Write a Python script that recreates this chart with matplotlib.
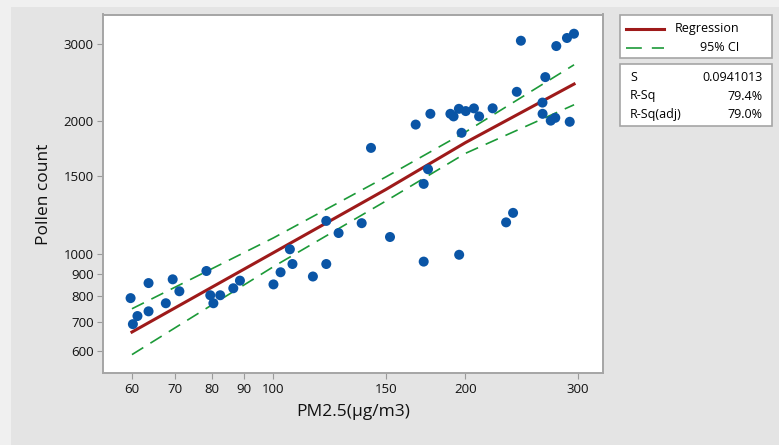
import matplotlib
matplotlib.use("Agg")
import matplotlib.pyplot as plt
from matplotlib.patches import Rectangle
from matplotlib.lines import Line2D
from matplotlib.ticker import FixedLocator, NullLocator

plt.rcParams['font.family'] = ['Open Sans', 'DejaVu Sans']

# scatter data (PM2.5, pollen count)
pm25 = [59.7, 60.2, 61.2, 63.7, 63.7, 67.8, 69.5, 71.2, 78.5, 79.6,
        80.5, 82.5, 86.5, 88.6, 100.0, 102.6, 106.1, 107.1, 115.3, 121.0,
        121.0, 126.5, 137.5, 152.3, 172.0, 195.5, 231.6, 237.5, 142.2, 172.0,
        174.7, 167.1, 176.2, 189.4, 191.6, 195.3, 200.2, 206.2, 210.1, 197.2,
        220.6, 240.7, 244.3, 266.8, 264.1, 264.2, 272.1, 276.6, 291.4, 277.6,
        288.5, 295.9]
pollen = [793, 692, 722, 858, 740, 772, 875, 822, 914, 805,
          772, 805, 835, 869, 852, 908, 1024, 948, 888, 1188,
          948, 1115, 1174, 1092, 960, 995, 1179, 1239, 1741, 1442,
          1557, 1967, 2081, 2081, 2053, 2136, 2111, 2141, 2053, 1884,
          2142, 2335, 3051, 2522, 2207, 2081, 2008, 2038, 1996, 2967,
          3095, 3165]

# fitted line and 95% CI, read at a few x values
fit_x = [60, 100, 150, 200, 296]
fit_y = [664, 1006, 1400, 1790, 2432]
ci_hi = [750, 1087, 1495, 1892, 2690]
ci_lo = [590, 935, 1318, 1692, 2182]

xticks = [60, 70, 80, 90, 100, 150, 200, 300]
yticks = [600, 700, 800, 900, 1000, 1500, 2000, 3000]

W, H = 779, 445
fig = plt.figure(figsize=(W / 100, H / 100), dpi=100)
fig.patch.set_facecolor('#f0f0f0')
fig.patches.append(Rectangle((11 / W, 0), 1 - 11 / W, 1 - 7 / H,
                             transform=fig.transFigure, facecolor='#e4e4e4',
                             edgecolor='none', zorder=-10))

ax = fig.add_axes([103.3 / W, 1 - 373.3 / H, (602.5 - 103.3) / W, (373.3 - 14.5) / H])
ax.set_facecolor('white')

red = '#9e1a1a'
green = '#1c9a38'
blue = '#0a55a6'

ax.plot(fit_x, fit_y, color=red, lw=2.2, zorder=3)
ax.plot(fit_x, ci_hi, color=green, lw=1.2, dashes=(8, 5), zorder=3)
ax.plot(fit_x, ci_lo, color=green, lw=1.2, dashes=(8, 5), zorder=3)
ax.scatter(pm25, pollen, s=52, color=blue, edgecolors='none', zorder=4)

ax.set_xscale('log')
ax.set_yscale('log')
ax.set_xlim(54.1, 328)
ax.set_ylim(535, 3500)
ax.xaxis.set_major_locator(FixedLocator(xticks))
ax.yaxis.set_major_locator(FixedLocator(yticks))
ax.xaxis.set_minor_locator(NullLocator())
ax.yaxis.set_minor_locator(NullLocator())
ax.set_xticklabels([str(t) for t in xticks])
ax.set_yticklabels([str(t) for t in yticks])
ax.tick_params(axis='both', length=4, width=0.8, color='#9a9a9a',
               labelsize=9.5, labelcolor='#111111', pad=3)

for s in ax.spines.values():
    s.set_color('#a5a5a5')
    s.set_linewidth(1.4)

ax.set_xlabel('PM2.5(μg/m3)', fontsize=12.5, color='#111111', labelpad=6)
ax.set_ylabel('Pollen count', fontsize=12.5, color='#111111', labelpad=8)

# legend box
def box(x0, y0, x1, y1):
    fig.patches.append(Rectangle((x0 / W, 1 - y1 / H), (x1 - x0) / W, (y1 - y0) / H,
                                 transform=fig.transFigure, facecolor='white',
                                 edgecolor='#a5a5a5', lw=1.2, zorder=1))

box(620, 14.7, 772, 58.3)
fig.lines.append(Line2D([625.7 / W, 664.3 / W], [1 - 28.7 / H] * 2,
                        transform=fig.transFigure, color=red, lw=2.2, zorder=2))
fig.lines.append(Line2D([625.7 / W, 664.3 / W], [1 - 47.7 / H] * 2,
                        transform=fig.transFigure, color=green, lw=1.2,
                        dashes=(9.5, 6), zorder=2))
fig.text(739 / W, 1 - 28.7 / H, 'Regression', ha='right', va='center', fontsize=9)
fig.text(739 / W, 1 - 47.7 / H, '95% CI', ha='right', va='center', fontsize=9)

box(620, 63.7, 772, 126)
stats = [('S', '0.0941013'), ('R-Sq', '79.4%'), ('R-Sq(adj)', '79.0%')]
for i, (k, v) in enumerate(stats):
    yy = 1 - (77.3 + 18.7 * i) / H
    fig.text(630 / W, yy, k, ha='left', va='center', fontsize=9)
    fig.text(762.7 / W, yy, v, ha='right', va='center', fontsize=9)

fig.savefig('out.png', dpi=100, facecolor=fig.get_facecolor())
